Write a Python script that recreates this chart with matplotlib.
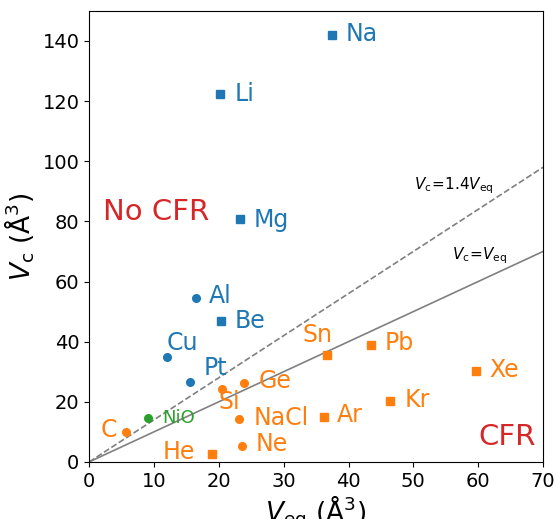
import matplotlib
matplotlib.use("Agg")
import matplotlib.pyplot as plt
import numpy as np

# Data (V_eq, V_c)
names = ["Na", "Li", "Mg", "Be", "Al", "Cu", "Pt",
         "NiO",
         "C", "Si", "Ge", "NaCl", "Ne", "He", "Sn", "Pb", "Xe", "Kr", "Ar"]
v_eq = [37.5, 20.2, 23.3, 20.4, 16.5, 12.0, 15.6,
        9.1,
        5.7, 20.5, 23.9, 23.1, 23.6, 19.0, 36.7, 43.5, 59.7, 46.4, 36.2]
v_c = [142.0, 122.4, 80.8, 46.9, 54.5, 34.9, 26.6,
       14.6,
       10.0, 24.3, 26.3, 14.3, 5.3, 2.7, 35.6, 38.9, 30.3, 20.3, 15.0]
groups = ["blue"] * 7 + ["green"] + ["orange"] * 11
markers = ["s", "s", "s", "s", "o", "o", "o",
           "o",
           "o", "o", "o", "o", "o", "s", "s", "s", "s", "s", "s"]

# label placement: (dx, dy, ha) in data units relative to the point
label_pos = {
    "Na": (2.1, 0.3, "left"), "Li": (2.2, 0.0, "left"), "Mg": (2.0, -0.5, "left"),
    "Be": (2.0, 0.0, "left"), "Al": (2.0, 0.7, "left"), "Cu": (0.0, 4.7, "left"),
    "Pt": (2.1, 4.7, "left"), "NiO": (2.2, 0.0, "left"),
    "C": (-1.4, 0.6, "right"), "Si": (-0.5, -4.3, "left"), "Ge": (2.2, 0.6, "left"),
    "NaCl": (2.2, 0.3, "left"), "Ne": (2.1, 0.7, "left"), "He": (-2.7, 0.6, "right"),
    "Sn": (0.8, 6.6, "right"), "Pb": (2.1, 0.7, "left"), "Xe": (2.0, 0.3, "left"),
    "Kr": (2.2, 0.3, "left"), "Ar": (2.0, 0.6, "left"),
}

colors = {"blue": "tab:blue", "orange": "tab:orange", "green": "tab:green"}

fig = plt.figure(figsize=(5.57, 5.19), dpi=100)
ax = fig.add_axes([0.16, 0.110, 0.815, 0.869])

xline = np.array([0, 70])
ax.plot(xline, xline, color="gray", lw=1.2)
ax.plot(xline, 1.4 * xline, color="gray", lw=1.2, ls="--")

for n, x, y, g, m in zip(names, v_eq, v_c, groups, markers):
    c = colors[g]
    ax.plot(x, y, marker=m, color=c, ms=5.5, ls="none")
    dx, dy, ha = label_pos[n]
    fs = 13 if n == "NiO" else 17
    ax.text(x + dx, y + dy, n, color=c, fontsize=fs, ha=ha, va="center")

ax.text(2.2, 83.1, "No CFR", color="tab:red", fontsize=21, ha="left", va="center")
ax.text(60.1, 8.3, "CFR", color="tab:red", fontsize=21, ha="left", va="center")

ax.text(50.1, 91.8, r"$V_\mathrm{c}\!=\!1.4V_\mathrm{eq}$", fontsize=11, ha="left", va="center")
ax.text(55.9, 68.5, r"$V_\mathrm{c}\!=\!V_\mathrm{eq}$", fontsize=11, ha="left", va="center")

ax.set_xlim(0, 70)
ax.set_ylim(0, 150)
ax.set_xticks(np.arange(0, 71, 10))
ax.set_yticks(np.arange(0, 141, 20))
ax.tick_params(labelsize=14)
ax.set_xlabel(r"$V_\mathrm{eq}$ (Å$^3$)", fontsize=19, labelpad=2)
ax.set_ylabel(r"$V_\mathrm{c}$ (Å$^3$)", fontsize=19)

fig.savefig("out.png", dpi=100)
